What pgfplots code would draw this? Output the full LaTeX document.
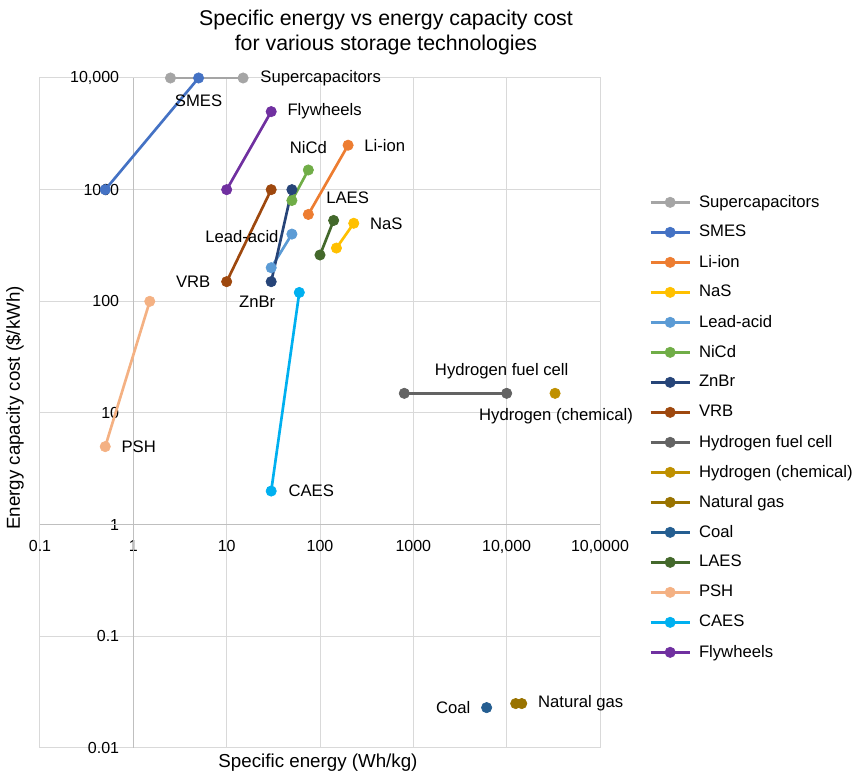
\documentclass[border=0pt]{standalone}
\usepackage{fontspec}
\setmainfont{Liberation Sans}
\usepackage{pgfplots}
\pgfplotsset{compat=1.18}

% series colours
\definecolor{cSuper}{HTML}{A5A5A5}
\definecolor{cSMES}{HTML}{4472C4}
\definecolor{cLiion}{HTML}{ED7D31}
\definecolor{cNaS}{HTML}{FFC000}
\definecolor{cLead}{HTML}{5B9BD5}
\definecolor{cNiCd}{HTML}{70AD47}
\definecolor{cZnBr}{HTML}{264478}
\definecolor{cVRB}{HTML}{9E480E}
\definecolor{cHfc}{HTML}{636363}
\definecolor{cHchem}{HTML}{BF9000}
\definecolor{cGas}{HTML}{997300}
\definecolor{cCoal}{HTML}{255E91}
\definecolor{cLAES}{HTML}{43682B}
\definecolor{cPSH}{HTML}{F4B183}
\definecolor{cCAES}{HTML}{00B0F0}
\definecolor{cFly}{HTML}{7030A0}
\definecolor{gridgray}{HTML}{D9D9D9}
\definecolor{axisgray}{HTML}{BFBFBF}

\tikzset{lbl/.style={inner sep=0pt, font=\fontsize{10}{12}\selectfont, text=black}}

\begin{document}
\begin{tikzpicture}
\useasboundingbox (-24pt,-18.6pt) rectangle (492pt,448.8pt);
\begin{axis}[
  scale only axis, width=336pt, height=402pt,
  xmode=log, ymode=log,
  xmin=0.1, xmax=100000, ymin=0.01, ymax=10000,
  xtick={0.1,1,10,100,1000,10000,100000},
  xticklabels={0.1,1,10,100,1000,{10,000},{10,0000}},
  ytick={0.01,0.1,1,10,100,1000,10000},
  yticklabels={0.01,0.1,1,10,100,1000,{10,000}},
  xminorticks=false, yminorticks=false,
  major tick length=0pt, minor tick length=0pt,
  grid=major,
  major grid style={draw=gridgray, line width=0.6pt},
  axis line style={draw=gridgray, line width=0.6pt},
  extra x ticks={1}, extra x tick labels={},
  extra x tick style={major grid style={draw=axisgray, line width=0.6pt}},
  extra y ticks={1}, extra y tick labels={},
  extra y tick style={major grid style={draw=axisgray, line width=0.6pt}},
  xticklabel style={yshift=128pt, font=\fontsize{9.6}{11}\selectfont, text=black},
  yticklabel style={xshift=51pt, font=\fontsize{9.6}{11}\selectfont, text=black},
  clip=false,
  every axis plot/.append style={line width=1.6pt, mark=*, mark size=3.1pt,
    mark options={solid, line width=0.4pt}},
  legend style={at={(1.0875,0.8373)}, anchor=north west, draw=none, fill=none,
    inner sep=0pt, font=\fontsize{10}{12}\selectfont, row sep=0pt, column sep=4.8pt,
    nodes={inner sep=0pt, minimum height=18pt}},
  legend cell align=left,
  legend image code/.code={\draw[mark repeat=2,mark phase=2,#1] plot coordinates {(0pt,0pt) (11.7pt,0pt) (23.4pt,0pt)};},
]
\addplot[color=cSuper] coordinates {(2.5,10000) (15,10000)};
\addlegendentry{Supercapacitors}
\addplot[color=cSMES] coordinates {(0.5,1000) (5,10000)};
\addlegendentry{SMES}
\addplot[color=cLiion] coordinates {(75,600) (200,2500)};
\addlegendentry{Li-ion}
\addplot[color=cNaS] coordinates {(150,300) (230,500)};
\addlegendentry{NaS}
\addplot[color=cLead] coordinates {(30,200) (50,400)};
\addlegendentry{Lead-acid}
\addplot[color=cNiCd] coordinates {(50,800) (75,1500)};
\addlegendentry{NiCd}
\addplot[color=cZnBr] coordinates {(30,150) (50,1000)};
\addlegendentry{ZnBr}
\addplot[color=cVRB] coordinates {(10,150) (30,1000)};
\addlegendentry{VRB}
\addplot[color=cHfc] coordinates {(800,15) (10000,15)};
\addlegendentry{Hydrogen fuel cell}
\addplot[color=cHchem] coordinates {(33000,15)};
\addlegendentry{Hydrogen (chemical)}
\addplot[color=cGas] coordinates {(12500,0.025) (14500,0.025)};
\addlegendentry{Natural gas}
\addplot[color=cCoal] coordinates {(6100,0.023)};
\addlegendentry{Coal}
\addplot[color=cLAES] coordinates {(100,260) (140,530)};
\addlegendentry{LAES}
\addplot[color=cPSH] coordinates {(0.5,5) (1.5,100)};
\addlegendentry{PSH}
\addplot[color=cCAES] coordinates {(30,2) (60,120)};
\addlegendentry{CAES}
\addplot[color=cFly] coordinates {(10,1000) (30,5000)};
\addlegendentry{Flywheels}

% point labels
\node[lbl, anchor=west, xshift=10.2pt] at (axis cs:15,10000) {Supercapacitors};
\node[lbl, yshift=-13.8pt] at (axis cs:5,10000) {SMES};
\node[lbl, anchor=west, xshift=9.6pt] at (axis cs:30,5000) {Flywheels};
\node[lbl, anchor=west, xshift=9.6pt] at (axis cs:200,2500) {Li-ion};
\node[lbl, yshift=13.2pt] at (axis cs:75,1500) {NiCd};
\node[lbl, xshift=8.4pt, yshift=13.8pt] at (axis cs:140,530) {LAES};
\node[lbl, anchor=west, xshift=9.6pt] at (axis cs:230,500) {NaS};
\node[lbl, xshift=-30pt, yshift=-1.2pt] at (axis cs:50,400) {Lead-acid};
\node[lbl, anchor=east, xshift=-9.6pt] at (axis cs:10,150) {VRB};
\node[lbl, xshift=-8.4pt, yshift=-12pt] at (axis cs:30,150) {ZnBr};
\node[lbl, anchor=west, xshift=9.6pt] at (axis cs:0.5,5) {PSH};
\node[lbl, anchor=west, xshift=10.2pt] at (axis cs:30,2) {CAES};
\node[lbl, xshift=-3pt, yshift=13.2pt] at (axis cs:10000,15) {Hydrogen fuel cell};
\node[lbl, xshift=0.6pt, yshift=-13.8pt] at (axis cs:33000,15) {Hydrogen (chemical)};
\node[lbl, anchor=east, xshift=-9.6pt] at (axis cs:6100,0.023) {Coal};
\node[lbl, anchor=west, xshift=9.6pt] at (axis cs:14500,0.025) {Natural gas};
\end{axis}

% title and axis titles
\node[font=\fontsize{12.8}{15}\selectfont, align=center, text=black] at (207.6pt,429.3pt)
  {Specific energy vs energy capacity cost\\for various storage technologies};
\node[font=\fontsize{11.25}{13}\selectfont, text=black] at (166.8pt,-9pt) {Specific energy (Wh/kg)};
\node[font=\fontsize{11.25}{13}\selectfont, text=black, rotate=90] at (-15pt,204pt) {Energy capacity cost (\$/kWh)};
\end{tikzpicture}
\end{document}
